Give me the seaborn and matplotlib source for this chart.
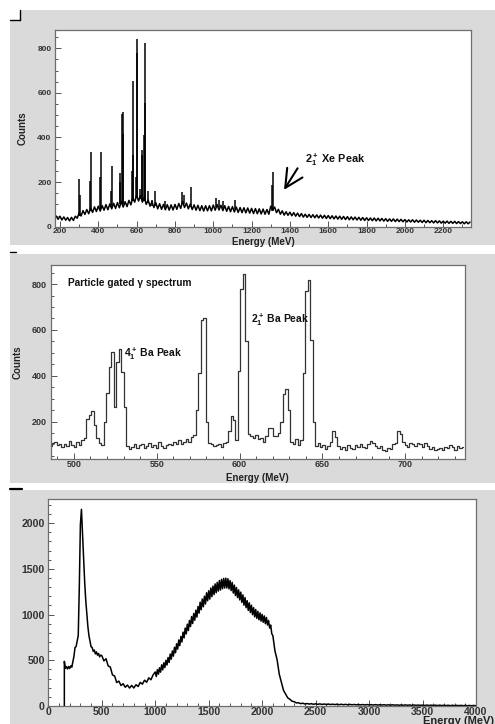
import numpy as np
import pandas as pd
import matplotlib
matplotlib.use("Agg")
import matplotlib.pyplot as plt
from matplotlib.patches import Rectangle
from matplotlib.lines import Line2D
from matplotlib.ticker import MultipleLocator
import seaborn as sns

# ---------------- data ----------------
P1_START, P1_STEP = 180, 10
P1_COUNTS = [
    48, 33, 47, 30, 44, 29, 41, 26, 42, 28,
    47, 38, 62, 48, 72, 55, 77, 58, 84, 64,
    89, 68, 92, 70, 95, 74, 99, 76, 102, 80,
    105, 82, 108, 85, 113, 88, 112, 90, 118, 98,
    131, 110, 142, 115, 140, 110, 131, 100, 120, 92,
    112, 86, 108, 80, 103, 78, 100, 76, 99, 74,
    98, 75, 100, 78, 104, 82, 113, 86, 106, 80,
    102, 77, 98, 74, 96, 72, 94, 70, 94, 71,
    94, 71, 97, 74, 99, 75, 96, 72, 94, 69,
    91, 67, 90, 66, 88, 64, 86, 63, 85, 62,
    84, 61, 82, 59, 81, 58, 80, 57, 79, 56,
    77, 56, 92, 76, 88, 63, 78, 56, 71, 52,
    67, 51, 65, 49, 63, 47, 61, 45, 59, 43,
    56, 42, 55, 41, 54, 40, 53, 39, 52, 38,
    51, 37, 50, 36, 49, 35, 48, 34, 47, 33,
    46, 32, 45, 31, 44, 31, 43, 30, 42, 29,
    41, 28, 40, 28, 39, 27, 39, 26, 38, 26,
    37, 25, 36, 24, 35, 24, 35, 23, 34, 23,
    33, 22, 32, 21, 31, 21, 31, 20, 30, 20,
    29, 19, 29, 18, 28, 18, 27, 17, 27, 17,
    26, 16, 25, 16, 25, 15, 24, 15, 24, 14,
    23, 14, 22, 13, 22, 13, 21,
]
P1_PEAK_E = [300, 303, 359, 362, 410, 413, 468, 471, 511, 514, 524, 527, 530,
             576, 579, 582, 597, 600, 603, 618, 627, 630, 640, 642, 645, 658,
             680, 696, 748, 835, 845, 882, 1014, 1032, 1052, 1113, 1308, 1311]
P1_PEAK_TOP = [214, 140, 205, 335, 225, 335, 160, 270, 240, 200, 505, 515, 415,
               250, 655, 320, 225, 780, 840, 170, 320, 345, 410, 822, 555, 160,
               120, 160, 115, 155, 140, 180, 130, 120, 115, 120, 185, 245]
P1_PEAK_BASE = [48, 50, 70, 70, 80, 80, 90, 90, 100, 100, 100, 100, 100,
                115, 115, 115, 130, 130, 130, 125, 120, 120, 115, 115, 115, 105,
                95, 95, 88, 100, 100, 90, 88, 90, 85, 80, 70, 70]

# Panel 2: particle-gated spectrum, 1.5 MeV bins starting at 485 MeV
P2_START, P2_BIN = 485.0, 1.5
P2_COUNTS = [
    92, 108, 112, 96, 104, 88, 100, 92, 116, 98, 90, 110, 96, 118,
    128, 210, 230, 245, 185, 128, 108, 98,
    200, 325, 440, 505, 262, 460, 515, 415, 265, 95,
    80, 88, 100, 84, 96, 104, 86, 92, 108, 90, 98, 86, 110, 92, 84, 96, 104, 98,
    112, 100, 118, 104, 110, 126, 112, 134,
    140, 250, 410, 645, 652, 200, 105,
    100, 92, 96, 104, 90, 108, 112,
    160, 225, 205, 118, 420, 780, 842, 550, 145,
    138, 130, 140, 122, 128, 112, 135, 170, 170, 135, 138, 150, 200, 320, 340,
    250, 110, 102, 125, 98, 120, 410, 770, 820, 555, 200, 95,
    105, 88, 96, 82, 92, 110, 160, 132, 95, 82,
    90, 76, 98, 84, 80, 96, 88, 104, 90, 85,
    102, 115, 108, 95, 86, 92, 78, 72, 85, 82,
    100, 108, 160, 145, 110, 98, 88, 105, 104, 92,
    106, 100, 88, 108, 95, 82, 88, 76, 80, 86,
    78, 90, 84, 96, 88, 76, 92, 84, 90,
]

# Panel 3: singles spectrum, read in several sampled segments
P3_EDGE_E = [150]
P3_EDGE_C = [0]
P3A_START, P3A_STEP = 150, 10
P3A_COUNTS = [488, 412, 430, 405, 432, 410, 438, 425, 488, 545,
              640, 650, 712, 770, 1300, 1980, 2150, 1880, 1620, 1360,
              1160, 1010, 870, 770, 712, 648, 640, 598, 612, 570,
              592, 556, 574, 538, 556]
P3B_START, P3B_STEP = 500, 20
P3B_COUNTS = [552, 493, 517, 438, 426, 340, 328, 257, 272, 224,
              244, 205, 229, 196, 225, 197, 233, 213, 258, 239,
              282, 260, 308, 287, 340]
P3C_START, P3C_STEP = 1000, 10
P3C_COUNTS = [
    372, 322, 398, 348, 418, 370, 450, 395, 472, 420,
    500, 448, 530, 476, 568, 512, 602, 545, 642, 582,
    680, 622, 722, 660, 760, 700, 808, 745, 852, 788,
    895, 825, 935, 868, 978, 902, 1012, 938, 1048, 972,
    1088, 1015, 1135, 1052, 1170, 1085, 1200, 1115, 1238, 1150,
    1260, 1168, 1290, 1195, 1312, 1218, 1335, 1238, 1352, 1256,
    1372, 1268, 1385, 1282, 1395, 1290, 1398, 1290, 1392, 1280,
    1372, 1262, 1352, 1235, 1322, 1208, 1296, 1185, 1270, 1160,
    1245, 1132, 1215, 1102, 1185, 1075, 1152, 1045, 1128, 1022,
    1102, 998, 1075, 975, 1055, 958, 1035, 942, 1018, 928,
    1002, 915, 985, 900, 968, 885, 935, 852, 885, 790,
]
P3D_START, P3D_STEP = 2100, 20
P3D_COUNTS = [
    770, 600, 505, 348, 258, 170, 130, 88, 73, 52,
    47, 34, 35, 26, 30, 22,
    27, 21, 25, 19, 24, 18, 23, 17, 22, 16,
    21, 16, 20, 15, 20, 14, 19, 14, 18, 13,
    18, 13, 17, 12, 17, 12, 16, 11, 16, 11,
    15, 10, 15, 10, 14, 10, 14, 9, 13, 9,
    13, 9, 12, 8, 12, 8, 12, 8, 11, 7,
    11, 7, 10, 7, 10, 6, 10, 6, 9, 6,
    9, 5, 9, 5, 8, 5, 8, 4, 8, 4,
    7, 4, 7, 3, 7, 3, 6, 3, 6, 3,
]

# ---------------- style ----------------
sns.set_theme(style="white")
plt.rcParams['font.family'] = ['Liberation Sans', 'DejaVu Sans']
plt.rcParams['font.weight'] = 'bold'
plt.rcParams['mathtext.fontset'] = 'custom'
plt.rcParams['mathtext.rm'] = 'Liberation Sans:bold'
plt.rcParams['mathtext.bf'] = 'Liberation Sans:bold'
plt.rcParams['mathtext.it'] = 'Liberation Sans:bold'
plt.rcParams['mathtext.default'] = 'bf'

W, H = 495, 724
GRAY = '#dadada'
fig = plt.figure(figsize=(W / 100, H / 100), dpi=100)
fig.patch.set_facecolor('white')


def frect(x0, y0, x1, y1):
    return [x0 / W, 1 - y1 / H, (x1 - x0) / W, (y1 - y0) / H]


for (x0, y0, x1, y1) in [(10, 10, 495, 245), (10, 254, 495, 483), (10, 490, 495, 724)]:
    r = frect(x0, y0, x1, y1)
    fig.add_artist(Rectangle((r[0], r[1]), r[2], r[3], transform=fig.transFigure,
                             facecolor=GRAY, edgecolor='none', zorder=-2))
# little corner marks
r = frect(10, 10, 20, 20)
fig.add_artist(Rectangle((r[0], r[1]), r[2], r[3], transform=fig.transFigure,
                         facecolor='white', edgecolor='none', zorder=-1))
for xs, ys, lw in [([10, 20], [20, 20], 1.0), ([20, 20], [10, 20], 1.0),
                   ([10, 16], [252, 252], 1.0), ([10, 22], [489, 489], 1.6)]:
    fig.add_artist(Line2D([x / W for x in xs], [1 - y / H for y in ys],
                          transform=fig.transFigure, color='black', lw=lw, zorder=-1))


def style(ax, fs):
    ax.set_facecolor('white')
    ax.grid(False)
    for s in ax.spines.values():
        s.set_visible(True)
        s.set_color('#6e6e6e')
        s.set_linewidth(0.9)
    ax.tick_params(which='both', direction='in', bottom=True, left=True, top=False,
                   right=False, colors='#555555', labelcolor='#333333',
                   labelsize=fs, width=0.7)
    ax.tick_params(which='major', length=4.5)
    ax.tick_params(which='minor', length=2.3)
    ax.tick_params(axis='x', which='both', pad=1.2)
    ax.tick_params(axis='y', which='both', pad=2.5)


# ---------------- panel 1 ----------------
ax1 = fig.add_axes(frect(55, 30, 471, 226.7))
e1 = P1_START + P1_STEP * np.arange(len(P1_COUNTS))
df1 = pd.DataFrame({'E': e1, 'C': P1_COUNTS})
sns.lineplot(data=df1, x='E', y='C', ax=ax1, color='black', lw=1.1,
             estimator=None, sort=False)
ax1.vlines(P1_PEAK_E, P1_PEAK_BASE, P1_PEAK_TOP, color='black', lw=1.1)
ax1.set_xlim(174, 2345)
ax1.set_ylim(0, 882)
ax1.xaxis.set_major_locator(MultipleLocator(200))
ax1.xaxis.set_minor_locator(MultipleLocator(100))
ax1.yaxis.set_major_locator(MultipleLocator(200))
ax1.yaxis.set_minor_locator(MultipleLocator(50))
style(ax1, 6.0)
ax1.set_xlabel('Energy (MeV)', fontsize=7, fontweight='bold', color='#222222')
ax1.set_ylabel('Counts', fontsize=7, fontweight='bold', color='#222222')
ax1.xaxis.label.set_va('center')
ax1.xaxis.set_label_coords(0.5, -0.076)
ax1.yaxis.label.set_va('center')
ax1.yaxis.set_label_coords(-0.079, 0.5)
ax1.text(1479, 300, r'$2^+_1$ Xe Peak', fontsize=7.8, fontweight='bold',
         va='center', ha='left', color='#111111')
ax1.annotate('', xy=(1369, 165), xytext=(1440, 262),
             arrowprops=dict(arrowstyle='->,head_length=1.3,head_width=0.65',
                             lw=1.5, color='black', mutation_scale=10,
                             shrinkA=0, shrinkB=0))

# ---------------- panel 2 ----------------
ax2 = fig.add_axes(frect(50.7, 265.3, 465, 458.7))
c2 = P2_START + P2_BIN / 2 + P2_BIN * np.arange(len(P2_COUNTS))
df2 = pd.DataFrame({'E': c2, 'C': P2_COUNTS})
sns.lineplot(data=df2, x='E', y='C', ax=ax2, color='#333333', lw=0.9,
             estimator=None, drawstyle='steps-mid')
ax2.set_xlim(486, 736)
ax2.set_ylim(38, 882)
ax2.xaxis.set_major_locator(MultipleLocator(50))
ax2.xaxis.set_minor_locator(MultipleLocator(10))
ax2.yaxis.set_major_locator(MultipleLocator(200))
ax2.yaxis.set_minor_locator(MultipleLocator(50))
style(ax2, 6.5)
ax2.set_xlabel('Energy (MeV)', fontsize=7, fontweight='bold', color='#222222')
ax2.set_ylabel('Counts', fontsize=7, fontweight='bold', color='#222222')
ax2.xaxis.label.set_va('center')
ax2.xaxis.set_label_coords(0.5, -0.1)
ax2.yaxis.label.set_va('center')
ax2.yaxis.set_label_coords(-0.079, 0.5)
ax2.text(496.7, 805, 'Particle gated γ spectrum', fontsize=7.3, fontweight='bold',
         va='center', ha='left', color='#111111')
ax2.text(530.3, 495, r'$4^+_1$ Ba Peak', fontsize=7.5, fontweight='bold',
         va='center', ha='left', color='#111111')
ax2.text(606.6, 643, r'$2^+_1$ Ba Peak', fontsize=7.5, fontweight='bold',
         va='center', ha='left', color='#111111')

# ---------------- panel 3 ----------------
ax3 = fig.add_axes(frect(48.3, 499.3, 476, 706))
e3 = np.concatenate([P3_EDGE_E,
                     P3A_START + P3A_STEP * np.arange(len(P3A_COUNTS)),
                     P3B_START + P3B_STEP * np.arange(len(P3B_COUNTS)),
                     P3C_START + P3C_STEP * np.arange(len(P3C_COUNTS)),
                     P3D_START + P3D_STEP * np.arange(len(P3D_COUNTS))])
cnt3 = np.concatenate([P3_EDGE_C, P3A_COUNTS, P3B_COUNTS, P3C_COUNTS, P3D_COUNTS])
df3 = pd.DataFrame({'E': e3, 'C': cnt3})
sns.lineplot(data=df3, x='E', y='C', ax=ax3, color='black', lw=1.1,
             estimator=None, sort=False)
ax3.set_xlim(0, 4000)
ax3.set_ylim(0, 2260)
ax3.xaxis.set_major_locator(MultipleLocator(500))
ax3.xaxis.set_minor_locator(MultipleLocator(100))
ax3.yaxis.set_major_locator(MultipleLocator(500))
ax3.yaxis.set_minor_locator(MultipleLocator(100))
style(ax3, 7.6)
ax3.tick_params(axis='x', which='both', pad=1.0)
ax3.set_xlabel('')
ax3.set_ylabel('')
fig.text(494 / W, 1 - 716.5 / H, 'Energy (MeV)', fontsize=8, fontweight='bold',
         ha='right', va='top', color='#222222')

fig.savefig('out.png', dpi=100, facecolor='white')
